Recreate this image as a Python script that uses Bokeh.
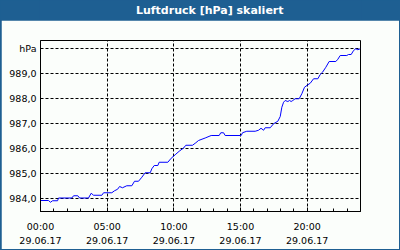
from bokeh.plotting import figure
from bokeh.models import Range1d, FixedTicker, Label
from bokeh.layouts import column
from bokeh.embed import file_html
from bokeh.resources import INLINE

# --- data (hours since 29.06.17 00:00, pressure hPa) ---
hours = [0.0, 0.6, 0.75, 0.9, 1.28, 1.35, 2.35, 2.48, 2.8, 2.93, 3.6, 3.8, 3.98,
         4.6, 4.73, 5.35, 5.55, 5.78, 5.93, 6.15, 6.47, 6.85, 7.05, 7.35, 7.6,
         7.85, 8.23, 8.35, 8.53, 8.8, 8.9, 9.55, 9.8, 10.1, 10.4, 10.73, 10.9,
         11.4, 11.65, 11.85, 12.35, 12.8, 13.4, 13.52, 13.73, 13.85, 15.05, 15.15,
         15.47, 16.1, 16.35, 16.54, 16.73, 16.85, 17.23, 17.48, 17.8, 17.98, 18.1,
         18.23, 18.35, 18.55, 18.68, 18.8, 18.92, 19.1, 19.4, 19.6, 19.8, 20.05,
         20.23, 20.48, 20.8, 20.98, 21.15, 21.4, 21.65, 22.15, 22.3, 22.48, 22.97,
         23.1, 23.3, 23.48, 23.65, 23.8, 23.98]
pressure = [983.90, 983.90, 983.83, 983.89, 983.89, 984.00, 984.00, 984.09, 984.09,
            984.00, 984.00, 984.19, 984.11, 984.11, 984.21, 984.21, 984.29, 984.35,
            984.46, 984.41, 984.49, 984.49, 984.67, 984.67, 984.83, 985.01, 985.01,
            985.17, 985.30, 985.30, 985.43, 985.43, 985.59, 985.73, 985.87, 986.00,
            986.11, 986.11, 986.21, 986.30, 986.40, 986.50, 986.50, 986.61, 986.61,
            986.50, 986.50, 986.61, 986.67, 986.67, 986.71, 986.79, 986.71, 986.81,
            986.81, 986.97, 987.07, 987.26, 987.63, 987.83, 987.90, 987.86, 987.90,
            987.86, 987.90, 987.97, 987.97, 988.17, 988.43, 988.53, 988.59, 988.77,
            988.77, 988.94, 989.03, 989.23, 989.46, 989.46, 989.55, 989.70, 989.70,
            989.74, 989.74, 989.90, 989.97, 989.93, 989.97]

x_ticks = [0, 5, 10, 15, 20]
x_minor = list(range(0, 25))
time_labels = ["00:00", "05:00", "10:00", "15:00", "20:00"]
date_labels = ["29.06.17", "29.06.17", "29.06.17", "29.06.17", "29.06.17"]
y_ticks = [984, 985, 986, 987, 988, 989, 990]
y_labels = ["984,0", "985,0", "986,0", "987,0", "988,0", "989,0", "hPa"]
title_text = "Luftdruck [hPa] skaliert"

BLUE = "#1e5f92"
BG = "#fbfefb"
FONT = "DejaVu Sans"

# --- header ---
head = figure(width=400, height=20, x_range=Range1d(0, 400), y_range=Range1d(0, 20),
              x_axis_type=None, y_axis_type=None, toolbar_location=None,
              output_backend="svg", min_border=0, outline_line_color=None,
              background_fill_color=BLUE, border_fill_color=BLUE)
head.grid.visible = False
head.add_layout(Label(x=211.5, y=10, text=title_text, text_align="center",
                      text_baseline="middle", text_color="white",
                      text_font=FONT, text_font_style="bold", text_font_size="11px"))

# --- main chart ---
p = figure(width=398, height=229, x_range=Range1d(0, 24), y_range=Range1d(983.46, 990.3),
           toolbar_location=None, output_backend="svg",
           min_border_left=39, min_border_right=39, min_border_top=20, min_border_bottom=38,
           background_fill_color=BG, border_fill_color=BG,
           outline_line_color="black", outline_line_width=1,
           margin=(0, 1, 1, 1))

p.line(hours, pressure, line_color="#0000ff", line_width=1)

xt = FixedTicker(ticks=x_ticks, minor_ticks=x_minor)
xa = p.xaxis[0]
xa.ticker = xt
xa.major_label_overrides = {t: f"{a}\n{b}" for t, a, b in zip(x_ticks, time_labels, date_labels)}
xa.major_tick_in = 4
xa.major_tick_out = 0
xa.minor_tick_in = 3
xa.minor_tick_out = 0
xa.major_label_standoff = 9
xa.major_label_text_font = FONT
xa.major_label_text_font_size = "9.5px"
xa.major_label_text_line_height = 1.3
xa.major_label_text_color = "black"
xa.axis_line_color = "black"

ya = p.yaxis[0]
ya.ticker = FixedTicker(ticks=y_ticks)
ya.major_label_overrides = {t: l for t, l in zip(y_ticks, y_labels)}
ya.major_tick_in = 0
ya.major_tick_out = 0
ya.minor_tick_line_color = None
ya.major_label_standoff = 4
ya.major_label_text_font = FONT
ya.major_label_text_font_size = "9.5px"
ya.major_label_text_color = "black"
ya.axis_line_color = "black"

p.xgrid.ticker = xt
for g in (p.xgrid[0], p.ygrid[0]):
    g.grid_line_color = "black"
    g.grid_line_dash = "3 2"
    g.grid_line_width = 1

layout = column(head, p, styles={"background-color": BLUE}, spacing=0)
open("out.html", "w").write(file_html(layout, INLINE))
